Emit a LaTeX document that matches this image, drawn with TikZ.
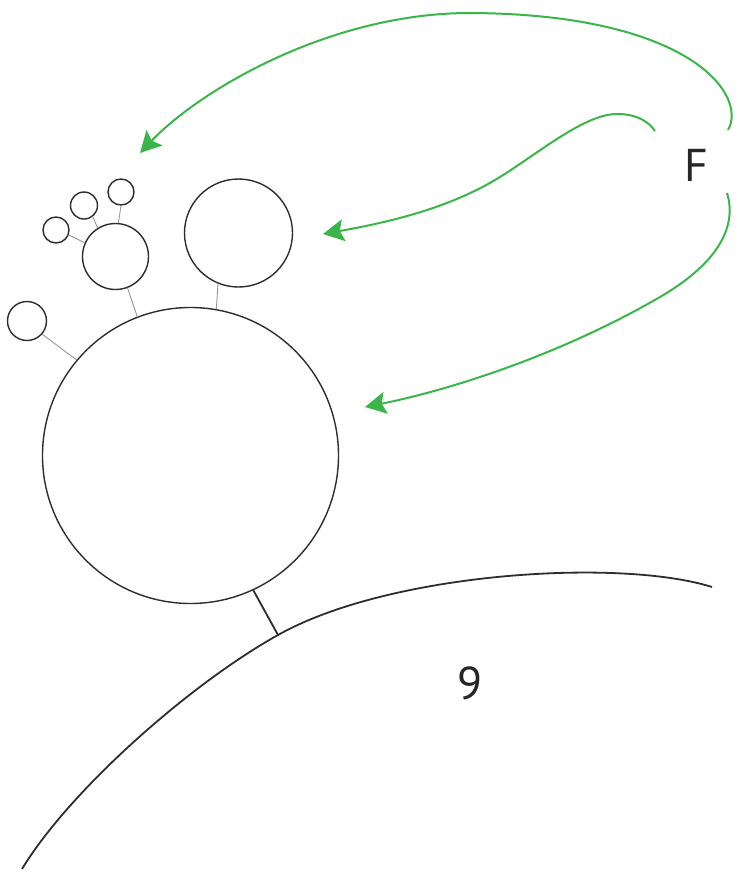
\documentclass[tikz,border=0pt]{standalone}
\usepackage{fontspec}
\setmainfont{PT Sans}
\usetikzlibrary{arrows.meta}
\definecolor{arrgreen}{RGB}{57,181,74}
\definecolor{lineblack}{RGB}{45,45,45}
\definecolor{stemgray}{RGB}{150,150,150}
\tikzset{
  cell/.style={circle,draw=lineblack,line width=1.4pt,inner sep=0pt,minimum size=#1},
  stemthin/.style={draw=stemgray,line width=0.9pt},
  stemthick/.style={draw=lineblack,line width=1.8pt},
  membrane/.style={draw=lineblack,line width=1.8pt},
  flow/.style={draw=arrgreen,line width=2pt,-{Stealth[length=21pt,width=22pt,inset=4pt]}},
  lbl/.style={font=\fontsize{46}{50}\selectfont,text=black!85,inner sep=0pt}
}
\begin{document}
\begin{tikzpicture}[x=1pt,y=-1pt]
\useasboundingbox (0,0) rectangle (739,873);
% circles
\node[cell=296pt] (big) at (190.5,455.5) {};
\node[cell=108pt] (c2) at (238.5,233) {};
\node[cell=66pt] (c3) at (115.5,256.5) {};
\node[cell=26pt] (ca) at (121,192) {};
\node[cell=27pt] (cb) at (84,205.5) {};
\node[cell=26pt] (cc) at (56,230) {};
\node[cell=39pt] (cd) at (27,321) {};
% stems
\draw[stemthin] (big.80.2) -- (c2.248.9);
\draw[stemthin] (big.111) -- (c3.291.6);
\draw[stemthin] (big.140.4) -- (cd.319.1);
\draw[stemthin] (c3.85.7) -- (ca.270);
\draw[stemthin] (c3.122) -- (cb.308);
\draw[stemthin] (c3.156) -- (cc.339);
% membrane arc
\coordinate (m0) at (22,869);
\coordinate (m) at (278,635);
\coordinate (m1) at (712,587);
\draw[membrane] (m0) .. controls (70,790) and (190,684) .. (m) .. controls (390,572) and (620,558) .. (m1);
\draw[stemthick] (big.295.6) -- (m);
% labels
\node[lbl] (F) at (696,165) {F};
\node[lbl] (nine) at (470,683) {9};
% arrows
\coordinate (s1) at (728,130);
\coordinate (s2) at (655,131);
\coordinate (s3) at (727,193);
\coordinate (t1) at (140,153);
\coordinate (t2) at (323,234);
\coordinate (t3) at (365,407);
\coordinate (p1) at (470,13);
\coordinate (p2a) at (617,114);
\coordinate (p2b) at (500,177);
\coordinate (p3) at (660,297);
\draw[flow] (s1) .. controls (748,95) and (690,14) .. (p1) .. controls (330,13) and (200,90) .. (t1);
\draw[flow] (s2) .. controls (645,117) and (630,114) .. (p2a) .. controls (585,114) and (540,152) .. (p2b) .. controls (450,208) and (390,222) .. (t2);
\draw[flow] (s3) .. controls (737,225) and (720,262) .. (p3) .. controls (560,355) and (450,390) .. (t3);
\end{tikzpicture}
\end{document}
